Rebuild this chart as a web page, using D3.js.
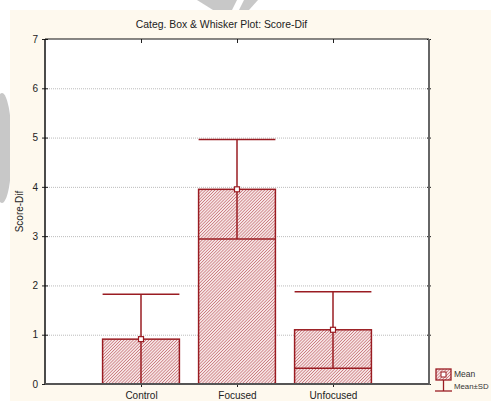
<!DOCTYPE html>
<html><head><meta charset="utf-8">
<script src="https://cdn.jsdelivr.net/npm/d3@7"></script>
<style>html,body{margin:0;padding:0;background:#fff;}svg{display:block;font-family:"Liberation Sans",Arial,sans-serif;}</style>
</head><body>
<script>
const categories = ["Control", "Focused", "Unfocused"];
const means = [0.91, 3.95, 1.10];
const upperSD = [1.82, 4.96, 1.87];
const lowerSD = [0.00, 2.94, 0.32];
const yTicks = [0, 1, 2, 3, 4, 5, 6, 7];
const title = "Categ. Box & Whisker Plot: Score-Dif";
const yLabel = "Score-Dif";
const legendLabels = ["Mean", "Mean±SD"];

const W = 491, H = 401;
const m = {left: 45, right: 429, top: 39, bottom: 384};
const red = "#9a1c22";

const svg = d3.select("body").append("svg").attr("width", W).attr("height", H);
const defs = svg.append("defs");
const pat = defs.append("pattern").attr("id", "hatch").attr("patternUnits", "userSpaceOnUse")
  .attr("width", 2.2).attr("height", 2.2).attr("patternTransform", "rotate(45)");
pat.append("rect").attr("width", 2.2).attr("height", 2.2).attr("fill", "#f7e6e6");
pat.append("line").attr("x1", 0).attr("y1", 0).attr("x2", 0).attr("y2", 2.2)
  .attr("stroke", "#b4464c").attr("stroke-width", 1);

// watermark bits in margins
const wm = svg.append("g").attr("fill", "#c8c8c8");
wm.append("path").attr("d", "M197,0 L237,0 L232,10 L213,10 Z");
wm.append("path").attr("d", "M244,0 L258,0 L249,10 L239,10 Z");
wm.append("ellipse").attr("cx", 2).attr("cy", 148).attr("rx", 10).attr("ry", 55);

// cream panel
svg.append("rect").attr("x", 10).attr("y", 10).attr("width", W - 10).attr("height", H - 10).attr("fill", "#fef9ee");

// plot area
svg.append("rect").attr("x", m.left).attr("y", m.top).attr("width", m.right - m.left)
  .attr("height", m.bottom - m.top).attr("fill", "#fff");

const x = d3.scalePoint().domain(categories).range([m.left, m.right]).padding(1);
const y = d3.scaleLinear().domain([0, 7]).range([m.bottom, m.top]);
const bw = x.step() * 0.8;

// grid
svg.append("g").selectAll("line").data(yTicks.filter(t => t > 0 && t < 7)).join("line")
  .attr("x1", m.left).attr("x2", m.right).attr("y1", d => y(d) + 0.5).attr("y2", d => y(d) + 0.5)
  .attr("stroke", "#bbb").attr("stroke-width", 1).attr("stroke-dasharray", "1,1");

// title
svg.append("text").attr("x", 221.5).attr("y", 28).attr("text-anchor", "middle")
  .attr("font-size", 10.4).attr("fill", "#222").text(title);

// bars
const g = svg.append("g");
categories.forEach((c, i) => {
  const cx = x(c);
  g.append("rect").attr("x", cx - bw / 2).attr("y", y(means[i])).attr("width", bw)
    .attr("height", y(0) - y(means[i])).attr("fill", "url(#hatch)").attr("stroke", red).attr("stroke-width", 1.5);
  g.append("line").attr("x1", cx).attr("x2", cx).attr("y1", y(lowerSD[i])).attr("y2", y(upperSD[i]))
    .attr("stroke", red).attr("stroke-width", 1.5);
  [upperSD[i], lowerSD[i]].forEach(v => {
    g.append("line").attr("x1", cx - bw / 2).attr("x2", cx + bw / 2).attr("y1", y(v)).attr("y2", y(v))
      .attr("stroke", red).attr("stroke-width", 1.5);
  });
  g.append("rect").attr("x", cx - 2.5).attr("y", y(means[i]) - 2.5).attr("width", 5).attr("height", 5)
    .attr("fill", "#fff").attr("stroke", red).attr("stroke-width", 1.2);
});

// axes
const axL = svg.append("g").attr("transform", `translate(${m.left},0)`)
  .call(d3.axisLeft(y).tickValues(yTicks).tickFormat(d3.format("d")).tickSize(3).tickSizeOuter(0));
axL.select(".domain").remove();
axL.selectAll(".tick line").attr("stroke", "#222");
axL.selectAll(".tick line").clone().attr("x2", 3);
axL.selectAll("text").attr("font-size", 10).attr("fill", "#222").attr("font-family", "Liberation Sans, Arial, sans-serif").attr("x", -7);

const axR = svg.append("g").attr("transform", `translate(${m.right},0)`)
  .call(d3.axisRight(y).tickValues(yTicks).tickFormat("").tickSize(2).tickSizeOuter(0));
axR.select(".domain").remove();
axR.selectAll(".tick line").attr("stroke", "#222").clone().attr("x2", -2);

const axB = svg.append("g").attr("transform", `translate(0,${m.bottom})`)
  .call(d3.axisBottom(x).tickSize(3).tickSizeOuter(0).tickPadding(5));
axB.select(".domain").remove();
axB.selectAll(".tick line").attr("stroke", "#222");
axB.selectAll("text").attr("font-size", 10).attr("fill", "#222").attr("font-family", "Liberation Sans, Arial, sans-serif");

const axT = svg.append("g").attr("transform", `translate(0,${m.top})`)
  .call(d3.axisBottom(x).tickSize(4).tickFormat("").tickSizeOuter(0));
axT.select(".domain").remove();
axT.selectAll(".tick line").attr("stroke", "#222");

// frame
svg.append("line").attr("x1", m.left).attr("x2", m.right).attr("y1", m.top).attr("y2", m.top).attr("stroke", "#111").attr("stroke-width", 1.2);
svg.append("line").attr("x1", m.left).attr("x2", m.left).attr("y1", m.top).attr("y2", m.bottom).attr("stroke", "#111").attr("stroke-width", 1.5);
svg.append("line").attr("x1", m.right).attr("x2", m.right).attr("y1", m.top).attr("y2", m.bottom + 1).attr("stroke", "#666").attr("stroke-width", 2);
svg.append("line").attr("x1", m.left).attr("x2", m.right).attr("y1", m.bottom).attr("y2", m.bottom).attr("stroke", "#555").attr("stroke-width", 2);

// y label
svg.append("text").attr("transform", `translate(23,${(m.top + m.bottom) / 2}) rotate(-90)`)
  .attr("text-anchor", "middle").attr("font-size", 10).attr("fill", "#222").text(yLabel);

// legend
const lg = svg.append("g");
lg.append("rect").attr("x", 436).attr("y", 369).attr("width", 15).attr("height", 11)
  .attr("fill", "url(#hatch)").attr("stroke", red).attr("stroke-width", 1.3);
lg.append("rect").attr("x", 441).attr("y", 372).attr("width", 5).attr("height", 5)
  .attr("fill", "#fff").attr("stroke", red).attr("stroke-width", 1);
lg.append("line").attr("x1", 443.5).attr("x2", 443.5).attr("y1", 380).attr("y2", 391).attr("stroke", red).attr("stroke-width", 1.3);
lg.append("line").attr("x1", 435).attr("x2", 452).attr("y1", 391).attr("y2", 391).attr("stroke", red).attr("stroke-width", 1.3);
lg.append("text").attr("x", 454).attr("y", 377).attr("font-size", 8.5).attr("fill", "#333").text(legendLabels[0]);
lg.append("text").attr("x", 454).attr("y", 389).attr("font-size", 7.8).attr("fill", "#333").text(legendLabels[1]);
</script>
</body></html>
